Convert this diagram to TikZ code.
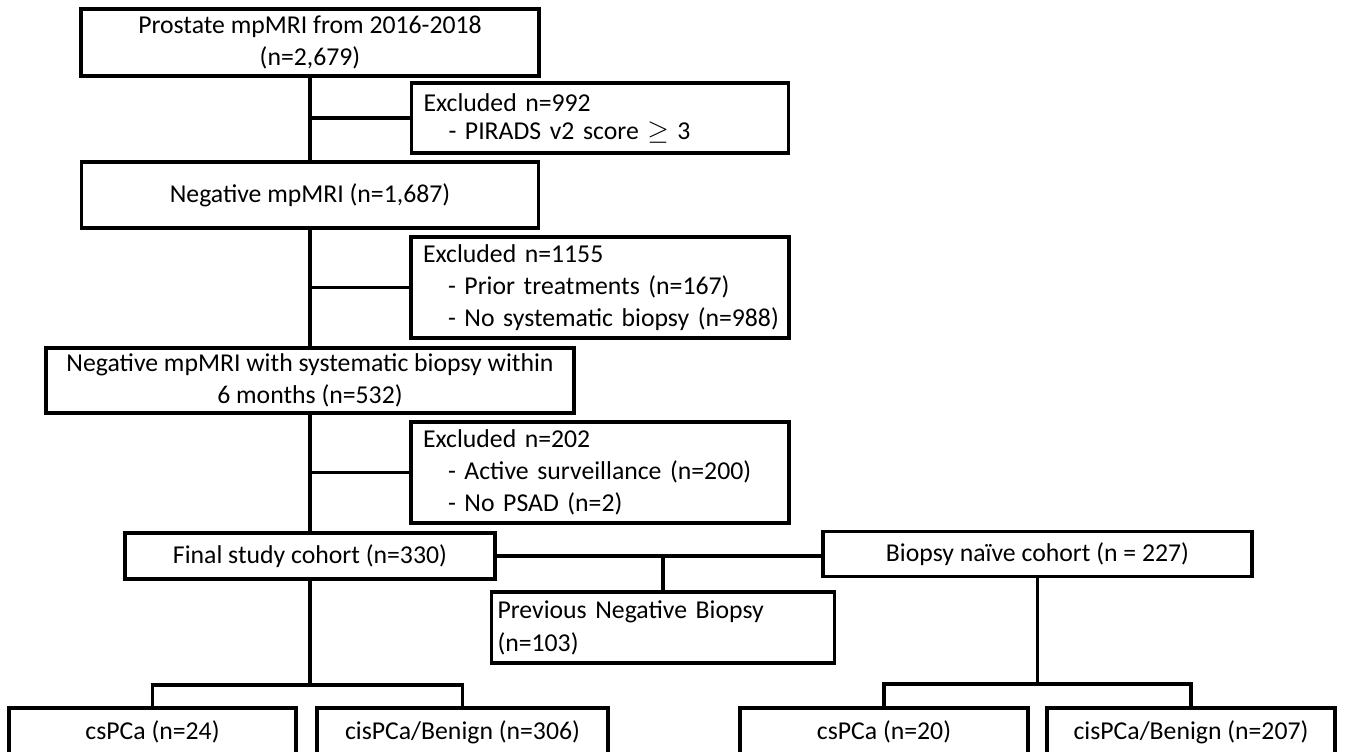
\documentclass[tikz,border=0pt]{standalone}
\usepackage{fontspec}
\setmainfont{Carlito}
\newcommand\fsz{\fontsize{19.3}{24}\selectfont}
\newcommand\fszb{\fontsize{19.3}{21}\selectfont}
\newcommand\fszc{\fontsize{19.3}{24.75}\selectfont}
\newcommand\ind{\hspace*{18.75pt}}
\tikzset{
  box/.style={draw, line width=2.4pt, rectangle, inner sep=0pt, font=\fsz, align=center},
  lbox/.style={box, align=left},
  conn/.style={line width=2.4pt},
}
\begin{document}
\begin{tikzpicture}[x=0.75pt, y=-0.75pt, line join=miter]
\useasboundingbox (0,0) rectangle (1347,752);
\clip (0,0) rectangle (1347,752);

% main column
\node[box, minimum width=343.5pt, minimum height=50.25pt] (box1) at (310,42.5)
  {Prostate mpMRI from 2016-2018\\(n=2,679)};
\node[lbox, font=\fszb, minimum width=282.75pt, minimum height=52.5pt, text width=264.75pt] (excl1) at (600,118)
  {\mbox{Excluded n=992}\\\mbox{\ind- PIRADS v2 score $\geq$ 3}};
\node[box, minimum width=342.75pt, minimum height=49.5pt] (box2) at (310,195)
  {Negative mpMRI (n=1,687)};
\node[lbox, minimum width=283.5pt, minimum height=75.75pt, text width=265.5pt] (excl2) at (600,287.5)
  {\mbox{Excluded n=1155}\\\mbox{\ind- Prior treatments (n=167)}\\\mbox{\ind- No systematic biopsy (n=988)}};
\node[box, minimum width=396pt, minimum height=48.75pt] (box3) at (310,380.5)
  {Negative mpMRI with systematic biopsy within\\6 months (n=532)};
\node[lbox, minimum width=283.5pt, minimum height=75.75pt, text width=265.5pt] (excl3) at (600,472.5)
  {\mbox{Excluded n=202}\\\mbox{\ind- Active surveillance (n=200)}\\\mbox{\ind- No PSAD (n=2)}};
\node[box, minimum width=277.5pt, minimum height=34.5pt] (final) at (310,556)
  {Final study cohort (n=330)};
\node[box, minimum width=321.75pt, minimum height=33.75pt] (naive) at (1037.5,554)
  {Biopsy naïve cohort (n = 227)};
\node[lbox, font=\fszc, minimum width=257.25pt, minimum height=53.25pt, text width=248.25pt] (prev) at (663,627.5)
  {\mbox{Previous Negative Biopsy}\\\mbox{(n=103)}};

% bottom row
\node[box, minimum width=215.25pt, minimum height=36pt] (cs24) at (152.5,732) {csPCa (n=24)};
\node[box, minimum width=218.25pt, minimum height=36pt] (cis306) at (462.5,732) {cisPCa/Benign (n=306)};
\node[box, minimum width=216pt, minimum height=36pt] (cs20) at (884,732) {csPCa (n=20)};
\node[box, minimum width=216pt, minimum height=36pt] (cis207) at (1191,732) {cisPCa/Benign (n=207)};

\coordinate (j1) at (310,685);
\coordinate (j2) at (1037.5,684);

% connectors
\draw[conn] (box1.south) -- (box2.north);
\draw[conn] (box1.south |- excl1.west) -- (excl1.west);
\draw[conn] (box2.south) -- (box3.north);
\draw[conn] (box2.south |- excl2.west) -- (excl2.west);
\draw[conn] (box3.south) -- (final.north);
\draw[conn] (box3.south |- excl3.west) -- (excl3.west);
\draw[conn] (final.south) -- (j1);
\draw[conn] (cs24.north) |- (j1) -| (cis306.north);
\draw[conn] (final.east) -- (final.east -| naive.west);
\draw[conn] (prev.north) -- (prev.north |- final.east);
\draw[conn] (naive.south) -- (j2);
\draw[conn] (cs20.north) |- (j2) -| (cis207.north);
\end{tikzpicture}
\end{document}
